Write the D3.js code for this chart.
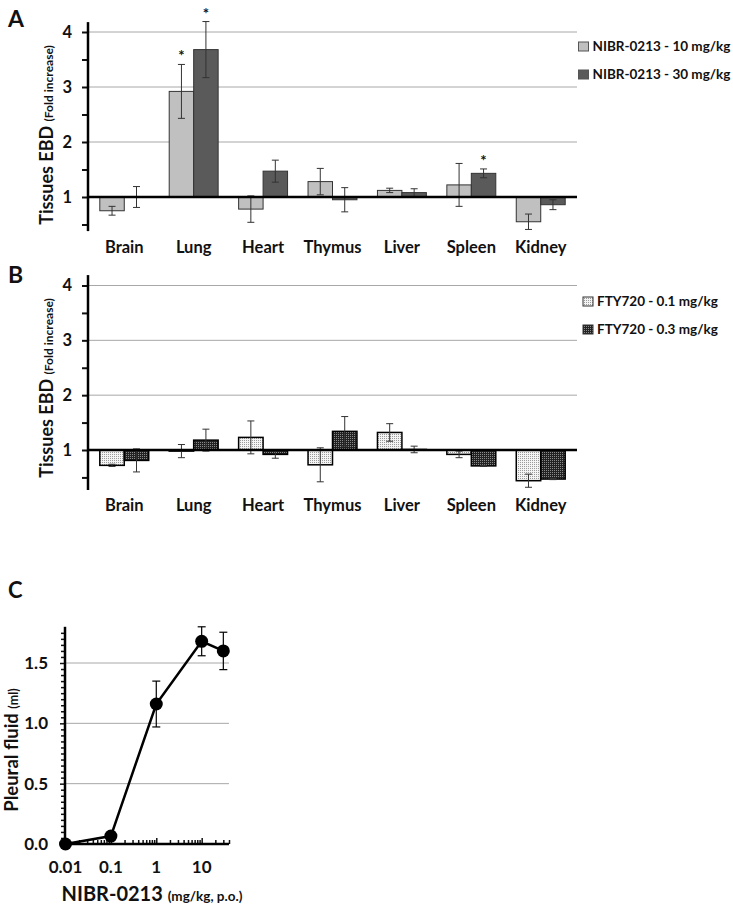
<!DOCTYPE html>
<html><head><meta charset="utf-8">
<script src="https://cdn.jsdelivr.net/npm/d3@7"></script>
<style>
body{margin:0;background:#fff}
text{font-family:Lato,'Open Sans',sans-serif;font-weight:bold;fill:#111}
</style>
</head><body><svg id="c" width="733" height="904"></svg>
<script>
// ---------- DATA ----------
const tissues = ["Brain","Lung","Heart","Thymus","Liver","Spleen","Kidney"];
const nibr10    = [0.75, 2.92, 0.78, 1.28, 1.12, 1.22, 0.55];
const nibr10Err = [0.08, 0.49, 0.24, 0.24, 0.04, 0.39, 0.14];
const nibr30    = [1.00, 3.68, 1.47, 0.95, 1.08, 1.43, 0.86];
const nibr30Err = [0.19, 0.51, 0.20, 0.22, 0.07, 0.08, 0.09];
const nibr10Sig = [0, 1, 0, 0, 0, 0, 0];
const nibr30Sig = [0, 1, 0, 0, 0, 1, 0];
const fty01     = [0.72, 0.98, 1.23, 0.73, 1.32, 0.92, 0.44];
const fty01Err  = [0.02, 0.12, 0.30, 0.31, 0.16, 0.06, 0.12];
const fty03     = [0.81, 1.18, 0.92, 1.34, 1.01, 0.71, 0.47];
const fty03Err  = [0.21, 0.20, 0.07, 0.27, 0.06, 0.01, 0.01];
const seriesA = ["NIBR-0213 - 10 mg/kg", "NIBR-0213 - 30 mg/kg"];
const seriesB = ["FTY720 - 0.1 mg/kg", "FTY720 - 0.3 mg/kg"];
const barTicks = [1, 2, 3, 4];
const doses     = [0.01, 0.1, 1, 10, 30];
const pleural   = [0.0, 0.066, 1.16, 1.68, 1.60];
const pleuralErr= [0, 0, 0.19, 0.12, 0.155];
const doseTicks = [0.01, 0.1, 1, 10];
const fluidTicks = [0, 0.5, 1.0, 1.5];

// ---------- SETUP ----------
const svg = d3.select("#c");
const defs = svg.append("defs");
const pl = defs.append("pattern").attr("id","dotLight").attr("width",2).attr("height",2).attr("patternUnits","userSpaceOnUse");
pl.append("rect").attr("width",2).attr("height",2).attr("fill","#f4f4f4");
pl.append("rect").attr("width",1).attr("height",1).attr("fill","#9a9a9a");
const pd = defs.append("pattern").attr("id","dotDark").attr("width",2).attr("height",2).attr("patternUnits","userSpaceOnUse");
pd.append("rect").attr("width",2).attr("height",2).attr("fill","#222");
pd.append("rect").attr("width",1).attr("height",1).attr("fill","#8a8a8a");

function barPanel(o) {
  const g = svg.append("g");
  const x = d3.scaleBand().domain(tissues).range([88, 577]).paddingInner(0.295).paddingOuter(0.17);
  const xs = d3.scaleBand().domain([0,1]).range([0, x.bandwidth()]);
  const y = d3.scaleLinear().domain([1, 4]).range(o.yr);
  // grid
  g.selectAll("line.grid").data(barTicks.filter(t => t > 1)).join("line")
    .attr("x1", 88).attr("x2", 577).attr("y1", d => y(d)).attr("y2", d => y(d))
    .attr("stroke", "#a8a8a8").attr("stroke-width", 1);
  // bars
  o.series.forEach((s, si) => {
    const gg = g.append("g");
    const rows = s.v.map((v, i) => ({ v, e: s.e[i], t: tissues[i], sig: s.sig ? s.sig[i] : 0 }));
    const cx = r => x(r.t) + xs(si) + xs.bandwidth() / 2;
    gg.selectAll("rect").data(rows).join("rect")
      .attr("x", r => x(r.t) + xs(si))
      .attr("width", xs.bandwidth())
      .attr("y", r => y(Math.max(r.v, 1)))
      .attr("height", r => Math.abs(y(r.v) - y(1)))
      .attr("fill", s.fill).attr("stroke", o.stroke).attr("stroke-width", o.sw);
    const eb = gg.append("g").attr("stroke", o.errColor).attr("stroke-width", 1);
    eb.selectAll("line.v").data(rows).join("line")
      .attr("x1", cx).attr("x2", cx)
      .attr("y1", r => y(r.v + r.e)).attr("y2", r => y(r.v - r.e));
    eb.selectAll("line.t").data(rows).join("line")
      .attr("x1", r => cx(r) - 3.5).attr("x2", r => cx(r) + 3.5)
      .attr("y1", r => y(r.v + r.e)).attr("y2", r => y(r.v + r.e));
    eb.selectAll("line.b").data(rows).join("line")
      .attr("x1", r => cx(r) - 3.5).attr("x2", r => cx(r) + 3.5)
      .attr("y1", r => y(r.v - r.e)).attr("y2", r => y(r.v - r.e));
    gg.selectAll("text.star").data(rows.filter(r => r.sig)).join("text")
      .attr("x", cx).attr("y", r => y(r.v + r.e) - 3)
      .attr("text-anchor", "middle").attr("font-size", 15).text("*");
  });
  // baseline at 1
  g.append("line").attr("x1", 88).attr("x2", 577).attr("y1", y(1)).attr("y2", y(1))
    .attr("stroke", "#000").attr("stroke-width", 2.5);
  // y axis
  const ax = g.append("g").attr("transform", "translate(88,0)")
    .call(d3.axisLeft(y).tickValues(barTicks).tickSize(6).tickSizeOuter(0).tickPadding(10).tickFormat(d3.format("d")));
  ax.select(".domain").remove();
  ax.selectAll("text").attr("font-size", 16.5).attr("font-family", "Lato").attr("font-weight", "bold").attr("fill", "#111");
  ax.selectAll("line").attr("stroke", "#111").attr("stroke-width", 2);
  const minor = g.append("g").attr("transform", "translate(88,0)")
    .call(d3.axisLeft(y).tickValues(barTicks.map(t => t - 0.5)).tickSize(6).tickFormat(""));
  minor.select(".domain").remove();
  minor.selectAll("line").attr("stroke", "#111").attr("stroke-width", 2);
  g.append("line").attr("x1", 88).attr("x2", 88).attr("y1", y(o.ymin)).attr("y2", y(o.ymax))
    .attr("stroke", "#000").attr("stroke-width", 2.5);
  // category labels
  g.selectAll("text.cat").data(tissues).join("text")
    .attr("x", d => x(d) + x.bandwidth() / 2).attr("y", o.catY)
    .attr("text-anchor", "middle").attr("font-size", 16.5).text(d => d);
  // y title
  const t = g.append("text").attr("transform", `translate(52.5,${o.titleY}) rotate(-90)`).attr("text-anchor", "middle");
  t.append("tspan").attr("font-size", 18).text("Tissues EBD ");
  t.append("tspan").attr("font-size", 12).text("(Fold increase)");
  // panel letter
  g.append("text").attr("x", 8).attr("y", o.letterY).attr("font-size", 23).text(o.letter);
  // legend
  o.series.forEach((s, si) => {
    g.append("rect").attr("x", o.legX).attr("y", o.legY + si * 28 - 9).attr("width", 10).attr("height", 9)
      .attr("fill", s.fill).attr("stroke", o.legStroke).attr("stroke-width", 1);
    g.append("text").attr("x", o.legX + 14).attr("y", o.legY + si * 28).attr("font-size", 13.5).text(s.name);
  });
}

barPanel({
  yr: [197, 32], ymin: 0.38, ymax: 4.18, catY: 253, titleY: 135, letter: "A", letterY: 27,
  stroke: "#333", sw: 1, errColor: "#333", legX: 578.5, legY: 51, legStroke: "#555",
  series: [
    { name: seriesA[0], v: nibr10, e: nibr10Err, fill: "#c0c0c0", sig: nibr10Sig },
    { name: seriesA[1], v: nibr30, e: nibr30Err, fill: "#5a5a5a", sig: nibr30Sig }
  ]
});
barPanel({
  yr: [450, 285.5], ymin: 0.27, ymax: 4.19, catY: 511, titleY: 388, letter: "B", letterY: 283,
  stroke: "#000", sw: 1.5, errColor: "#333", legX: 583, legY: 306, legStroke: "#333",
  series: [
    { name: seriesB[0], v: fty01, e: fty01Err, fill: "url(#dotLight)" },
    { name: seriesB[1], v: fty03, e: fty03Err, fill: "url(#dotDark)" }
  ]
});

// ---------- PANEL C ----------
(function () {
  const g = svg.append("g");
  const x = d3.scaleLog().domain([0.01, 40]).range([65.5, 229]);
  const y = d3.scaleLinear().domain([0, 1.5]).range([844, 663]);
  g.selectAll("line.grid").data(fluidTicks.filter(t => t > 0)).join("line")
    .attr("x1", 65).attr("x2", 229).attr("y1", d => y(d)).attr("y2", d => y(d))
    .attr("stroke", "#a8a8a8").attr("stroke-width", 1);
  // minor y ticks
  const yMinor = d3.range(0.05, 1.8, 0.05).filter(v => Math.abs(v * 2 - Math.round(v * 2)) > 1e-6);
  const ym = g.append("g").attr("transform", "translate(65,0)")
    .call(d3.axisLeft(y).tickValues(yMinor).tickSize(4).tickFormat(""));
  ym.select(".domain").remove();
  ym.selectAll("line").attr("stroke", "#111").attr("stroke-width", 1.5);
  const ya = g.append("g").attr("transform", "translate(65,0)")
    .call(d3.axisLeft(y).tickValues(fluidTicks).tickSize(5).tickPadding(12).tickFormat(d3.format(".1f")));
  ya.select(".domain").remove();
  ya.selectAll("line").attr("stroke", "#111").attr("stroke-width", 1.5);
  ya.selectAll("text").attr("font-size", 17).attr("font-family", "Lato").attr("font-weight", "bold").attr("fill", "#111");
  // x minor ticks (inside, upward)
  const xMinor = [];
  [0.01, 0.1, 1, 10].forEach(dec => { for (let k = 2; k <= 9; k++) if (dec * k <= 40) xMinor.push(dec * k); });
  const xm = g.append("g").attr("transform", "translate(0,844)")
    .call(d3.axisTop(x).tickValues(xMinor).tickSize(4).tickFormat(""));
  xm.select(".domain").remove();
  xm.selectAll("line").attr("stroke", "#111").attr("stroke-width", 1.5);
  const xa = g.append("g").attr("transform", "translate(0,844)")
    .call(d3.axisTop(x).tickValues(doseTicks).tickSize(6).tickFormat(""));
  xa.select(".domain").remove();
  xa.selectAll("line").attr("stroke", "#111").attr("stroke-width", 1.5);
  g.selectAll("text.xl").data(doseTicks).join("text")
    .attr("x", d => x(d)).attr("y", 873).attr("text-anchor", "middle").attr("font-size", 17)
    .text(d => String(d));
  // axis lines
  g.append("line").attr("x1", 65).attr("x2", 65).attr("y1", y(0) + 1).attr("y2", y(1.8)).attr("stroke", "#000").attr("stroke-width", 2.5);
  g.append("line").attr("x1", 64).attr("x2", 229).attr("y1", y(0)).attr("y2", y(0)).attr("stroke", "#000").attr("stroke-width", 2.5);
  // error bars
  const eb = g.append("g").attr("stroke", "#000").attr("stroke-width", 1.2);
  const pts = doses.map((d, i) => ({ d, v: pleural[i], e: pleuralErr[i] })).filter(p => p.e > 0);
  eb.selectAll("line.v").data(pts).join("line").attr("x1", p => x(p.d)).attr("x2", p => x(p.d)).attr("y1", p => y(p.v + p.e)).attr("y2", p => y(p.v - p.e));
  eb.selectAll("line.t").data(pts).join("line").attr("x1", p => x(p.d) - 4).attr("x2", p => x(p.d) + 4).attr("y1", p => y(p.v + p.e)).attr("y2", p => y(p.v + p.e));
  eb.selectAll("line.b").data(pts).join("line").attr("x1", p => x(p.d) - 4).attr("x2", p => x(p.d) + 4).attr("y1", p => y(p.v - p.e)).attr("y2", p => y(p.v - p.e));
  // line + dots
  g.append("path").datum(doses.map((d, i) => [d, pleural[i]]))
    .attr("d", d3.line().x(p => x(p[0])).y(p => y(p[1])))
    .attr("fill", "none").attr("stroke", "#000").attr("stroke-width", 2.5);
  g.selectAll("circle").data(doses.map((d, i) => [d, pleural[i]])).join("circle")
    .attr("cx", p => x(p[0])).attr("cy", p => y(p[1])).attr("r", 6.5).attr("fill", "#000");
  // titles
  const yt = g.append("text").attr("transform", `translate(18,750) rotate(-90)`).attr("text-anchor", "middle");
  yt.append("tspan").attr("font-size", 18.5).text("Pleural fluid ");
  yt.append("tspan").attr("font-size", 12.5).text("(ml)");
  const xt = g.append("text").attr("x", 152).attr("y", 901).attr("text-anchor", "middle");
  xt.append("tspan").attr("font-size", 20).text("NIBR-0213 ");
  xt.append("tspan").attr("font-size", 13.5).text("(mg/kg, p.o.)");
  g.append("text").attr("x", 8).attr("y", 598).attr("font-size", 22).text("C");
})();
</script>
</body></html>
